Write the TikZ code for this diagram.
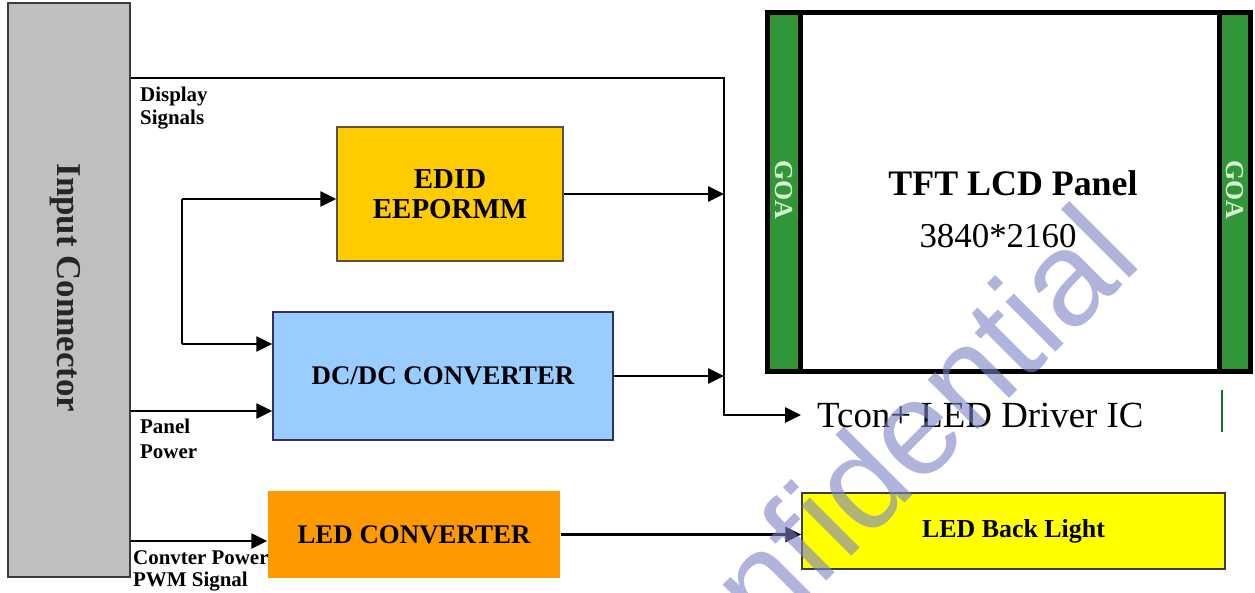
\documentclass[tikz,border=0pt]{standalone}
\usepackage{fontspec}
\setmainfont{Liberation Serif}
\newfontfamily\wmfont{Liberation Sans}
\usetikzlibrary{arrows.meta}
\definecolor{conngray}{RGB}{191,191,191}
\definecolor{edidfill}{RGB}{255,204,0}
\definecolor{dcfill}{RGB}{153,204,255}
\definecolor{ledcfill}{RGB}{255,153,0}
\definecolor{blfill}{RGB}{255,255,0}
\definecolor{goagreen}{RGB}{48,150,56}
\definecolor{goatext}{RGB}{215,240,210}
\definecolor{wmcol}{RGB}{123,130,197}
\definecolor{tickgreen}{RGB}{20,110,40}
\definecolor{edge}{RGB}{60,60,60}
\begin{document}
\begin{tikzpicture}[x=1bp,y=-1bp,
  blk/.style={line width=1.5bp, inner sep=0pt, align=center, text=black},
  bigtxt/.style={font=\bfseries\fontsize{27}{30}\selectfont},
  sigtxt/.style={anchor=north west, inner sep=0pt, align=left, font=\bfseries\fontsize{21}{23}\selectfont},
  goatxt/.style={rotate=-90, inner sep=0pt, text=goatext, font=\bfseries\fontsize{26}{28}\selectfont},
  wire/.style={line width=2.6bp},
  arr/.style={wire, -{Triangle[length=16bp,width=15bp]}}
]
\useasboundingbox (0,0) rectangle (1255,593);

% Input connector
\node[blk, draw=edge, fill=conngray, minimum width=122bp, minimum height=574bp] (inp) at (69,290) {};
\node[rotate=-90, inner sep=0pt, font=\bfseries\fontsize{35}{38}\selectfont, text=black!85] (inptxt) at (65,288) {Input Connector};

% Boxes
\node[blk, draw=edge!70!brown, fill=edidfill, minimum width=226bp, minimum height=134bp, font=\bfseries\fontsize{29}{30}\selectfont] (edid) at (450,194) {EDID\\EEPORMM};
\node[blk, bigtxt, draw=edge!80!blue, fill=dcfill, minimum width=340bp, minimum height=128bp] (dcdc) at (443,376) {DC/DC CONVERTER};
\node[blk, bigtxt, fill=ledcfill, minimum width=292bp, minimum height=87bp] (ledc) at (414,534.5) {LED CONVERTER};
\node[blk, draw=edge, fill=blfill, minimum width=423bp, minimum height=76bp, font=\bfseries\fontsize{26}{28}\selectfont] (ledbl) at (1013.5,531) {LED Back Light};

% TFT LCD panel
\fill[goagreen] (768,13) rectangle (800,371);
\fill[goagreen] (1219,13) rectangle (1250,371);
\node[draw=black, line width=5bp, minimum width=483bp, minimum height=359bp, inner sep=0pt] (panel) at (1009,192) {};
\draw[line width=5bp] (800.5,13) -- (800.5,371);
\draw[line width=5bp] (1219,13) -- (1219,371);
\node[goatxt] (goaL) at (784,190) {GOA};
\node[goatxt] (goaR) at (1235,190) {GOA};
\node[inner sep=0pt, font=\bfseries\fontsize{36}{38}\selectfont] (tft) at (1013,183) {TFT LCD Panel};
\node[inner sep=0pt, font=\fontsize{35}{38}\selectfont] (res) at (998,236) {3840*2160};

% Tcon
\node[anchor=west, inner xsep=16bp, inner ysep=0pt, font=\fontsize{37}{40}\selectfont] (tcon) at (801,415) {Tcon+ LED Driver IC};
\draw[tickgreen, line width=2bp] (1222,390) -- (1222,432);

% Signal labels
\node[sigtxt] (lbldisp) at (140,87) {Display\\Signals};
\node[sigtxt, font=\bfseries\fontsize{21}{25}\selectfont] (lblpow) at (140,419) {Panel\\Power};
\node[sigtxt] (lblconv) at (133,550) {Convter Power\\PWM Signal};

% Connectors
\coordinate (j1) at (724,78);
\coordinate (j2) at (724,415);
\coordinate (b1) at (182,199);
\coordinate (b2) at (182,344);
\coordinate (pp) at (0,411);
\coordinate (cp) at (0,541);

\draw[arr] (inp.east |- j1) -- (j1) -- (j2) -- (tcon.west);
\draw[arr] (edid.east) -- (edid.east -| j1);
\draw[arr] (dcdc.east) -- (dcdc.east -| j1);
\draw[wire] (b1) -- (b2);
\draw[arr] (b1) -- (edid.west |- b1);
\draw[arr] (b2) -- (dcdc.west |- b2);
\draw[arr] (inp.east |- pp) -- (dcdc.west |- pp);
\draw[arr] (inp.east |- cp) -- (ledc.west |- cp);
\draw[arr] (ledc.east) -- (ledbl.west |- ledc.east);

% Watermark
\node[rotate=45, anchor=base, inner sep=0pt, text=wmcol, text opacity=0.6, font=\wmfont\fontsize{134}{134}\selectfont] (wm) at (895,513) {Confidential};
\end{tikzpicture}
\end{document}
